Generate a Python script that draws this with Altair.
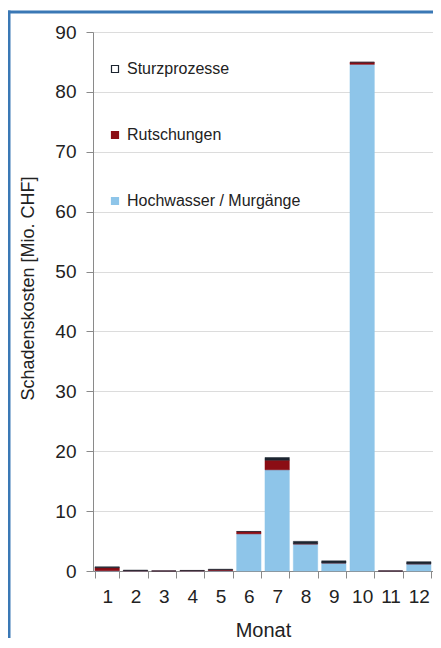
import altair as alt
import pandas as pd

months = list(range(1, 13))
hochwasser = [0.05, 0.0, 0.0, 0.0, 0.05, 6.2, 16.9, 4.5, 1.35, 84.6, 0.0, 1.2]
rutschungen = [0.5, 0.05, 0.0, 0.05, 0.15, 0.4, 1.6, 0.05, 0.0, 0.35, 0.0, 0.0]
sturz = [0.15, 0.1, 0.0, 0.05, 0.1, 0.0, 0.45, 0.4, 0.35, 0.0, 0.0, 0.35]

types = ["Sturzprozesse", "Rutschungen", "Hochwasser / Murgänge"]
bar_colors = ["#1c2530", "#8b0d14", "#8ec5e9"]
legend_fills = ["#ffffff", "#8b0d14", "#8ec5e9"]
legend_strokes = ["#1c2530", "#8b0d14", "#8ec5e9"]
order_map = {"Hochwasser / Murgänge": 0, "Rutschungen": 1, "Sturzprozesse": 2}

rows = []
for i, m in enumerate(months):
    for t, vals in (("Hochwasser / Murgänge", hochwasser), ("Rutschungen", rutschungen), ("Sturzprozesse", sturz)):
        rows.append({"Monat": str(m), "Typ": t, "Wert": vals[i], "ord": order_map[t]})
df = pd.DataFrame(rows)

FONT = "Liberation Sans"

x_enc = alt.X("Monat:N", sort=[str(m) for m in months],
              scale=alt.Scale(paddingInner=0.14, paddingOuter=0.07),
              axis=alt.Axis(title="Monat", labelAngle=0, tickBand="extent", tickSize=7,
                            labelPadding=9, titlePadding=14, labelFontSize=19, titleFontSize=20,
                            domainColor="#8a8a8a", tickColor="#8a8a8a", grid=False,
                            labelColor="#222222", titleColor="#222222", titleFontWeight="normal",
                            labelFont=FONT, titleFont=FONT))
y_enc = alt.Y("Wert:Q", stack="zero", scale=alt.Scale(domain=[0, 90], nice=False),
              axis=alt.Axis(title="Schadenskosten [Mio. CHF]", values=list(range(0, 91, 10)),
                            tickSize=7, labelPadding=10, labelFontSize=19, titleFontSize=18,
                            domainColor="#8a8a8a", tickColor="#8a8a8a", gridColor="#dcdcdc",
                            labelColor="#222222", titleColor="#222222", titleFontWeight="normal",
                            titleX=-56, titleY=256, labelFont=FONT, titleFont=FONT))

bars = alt.Chart(df).mark_bar(strokeWidth=0.5).encode(
    x=x_enc,
    y=y_enc,
    fill=alt.Fill("Typ:N", scale=alt.Scale(domain=types, range=bar_colors), legend=None),
    stroke=alt.Stroke("Typ:N", scale=alt.Scale(domain=types, range=bar_colors), legend=None),
    order=alt.Order("ord:Q", sort="ascending"),
)

legend_props = dict(title=None, orient="none", legendX=14, legendY=29,
                    symbolType="square", symbolSize=49, rowPadding=50,
                    labelFontSize=16, labelFont=FONT, labelColor="#222222",
                    labelOffset=4, padding=0, labelLimit=400, symbolStrokeWidth=1.2)

legend_layer = alt.Chart(df).transform_filter("false").mark_bar(strokeWidth=1.2).encode(
    x=alt.X("Monat:N", sort=[str(m) for m in months]),
    y=alt.Y("Wert:Q"),
    fill=alt.Fill("Typ:N", scale=alt.Scale(domain=types, range=legend_fills),
                  legend=alt.Legend(**legend_props)),
    stroke=alt.Stroke("Typ:N", scale=alt.Scale(domain=types, range=legend_strokes),
                      legend=alt.Legend(**legend_props)),
)

one = pd.DataFrame({"a": [0]})
frame_left = alt.Chart(one).mark_rule(stroke="#3a78b5", strokeWidth=3).encode(
    x=alt.value(-84), y=alt.value(-21.5), y2=alt.value(606))
frame_top = alt.Chart(one).mark_rule(stroke="#3a78b5", strokeWidth=3).encode(
    x=alt.value(-85.5), x2=alt.value(340), y=alt.value(-20))

chart = alt.layer(bars, legend_layer, frame_left, frame_top).resolve_scale(
    fill="independent", stroke="independent"
).properties(
    width=340, height=539,
    autosize=alt.AutoSizeParams(type="none"),
    padding={"left": 85, "top": 24, "right": 0, "bottom": 68},
).configure_view(stroke="#b5b5b5", strokeWidth=1.5).configure(background="white")

chart.save("out.html", embed_options={"renderer": "svg", "actions": False})
